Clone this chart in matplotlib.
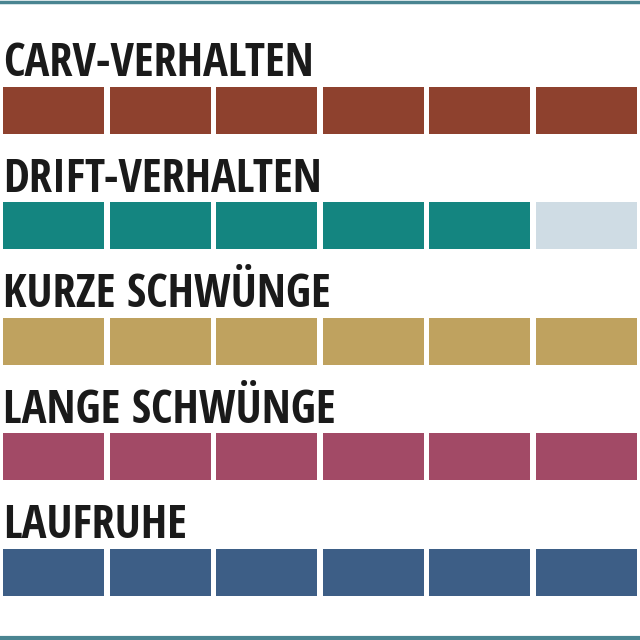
import matplotlib.pyplot as plt
from matplotlib.lines import Line2D

# ratings (out of 6 segments)
labels = ["CARV-VERHALTEN", "DRIFT-VERHALTEN", "KURZE SCHWÜNGE", "LANGE SCHWÜNGE", "LAUFRUHE"]
scores = [6, 5, 6, 6, 6]
max_score = 6
colors = ["#8e412e", "#148580", "#bfa25f", "#a24a66", "#3d5e86"]
empty_color = "#cfdce4"

fig = plt.figure(figsize=(6.4, 6.4), dpi=100)
ax = fig.add_axes([0, 0, 1, 1])

for r, (lab, s, c) in enumerate(zip(labels, scores, colors)):
    for i in range(max_score):
        col = c if i < s else empty_color
        ax.barh(r, 0.947, left=i, height=0.407, align="edge", color=col,
                linewidth=0)
    ax.text(0.002, r - 0.095, lab, fontsize=33.5, fontweight="bold",
            family=["Open Sans Condensed", "DejaVu Sans"],
            color="#1a1a1a", va="baseline", ha="left")

ax.set_xlim(-0.0281, 5.976)
ax.set_ylim(4.788, -0.753)
ax.axis("off")

# teal rules at top and bottom
fig.add_artist(Line2D([0, 1], [0.9975, 0.9975], color="#4a8591", lw=2.5))
fig.add_artist(Line2D([0, 1], [0.0035, 0.0035], color="#4a8591", lw=3))

fig.savefig("out.png", dpi=100, facecolor="white")
